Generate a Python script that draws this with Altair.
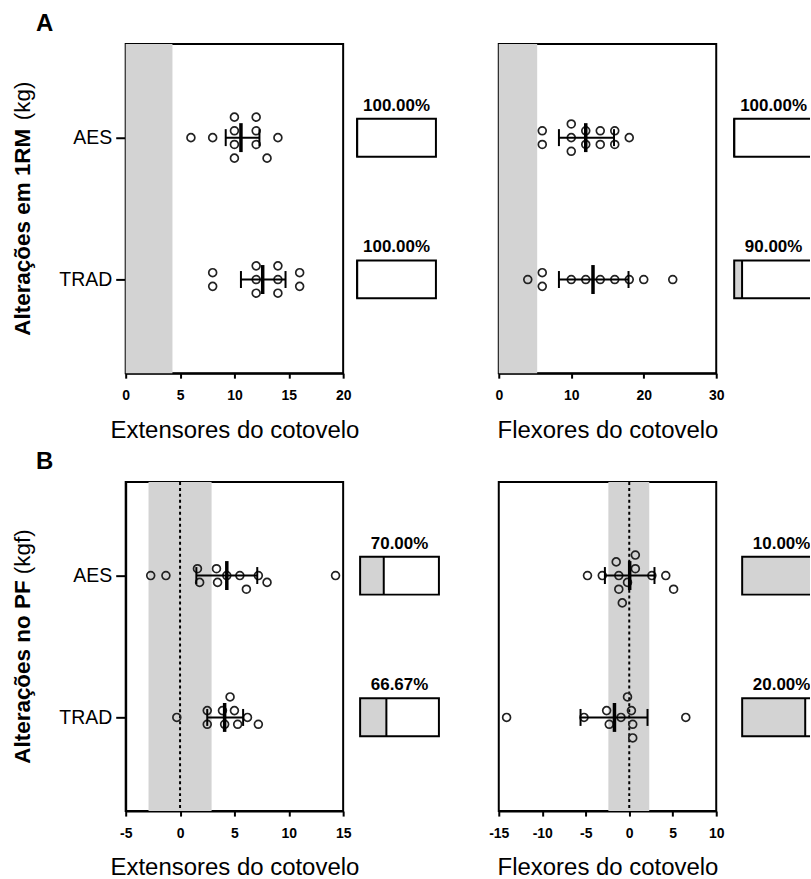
import altair as alt
import pandas as pd

FONT = "Liberation Sans"
GROUPS = ["AES", "TRAD"]

# ---------------- values ----------------
# A: Alterações em 1RM (kg)
ext_1rm_aes = [6, 8, 10, 10, 10, 10, 12, 12, 12, 13, 14]
ext_1rm_trad = [8, 8, 12, 12, 12, 14, 14, 14, 16, 16]
flex_1rm_aes = [6, 6, 10, 10, 10, 12, 12, 14, 14, 16, 16, 18]
flex_1rm_trad = [4, 6, 6, 10, 12, 14, 16, 18, 20, 24]
# B: Alterações no PF (kgf)
ext_pf_aes = [-2.7, -1.3, 1.6, 1.8, 3.35, 3.45, 4.3, 5.5, 6.1, 7.2, 8.0, 14.3]
ext_pf_trad = [-0.3, 2.5, 2.5, 3.9, 4.1, 4.6, 5.0, 5.3, 6.2, 7.2]
flex_pf_aes = [-4.8, -3.1, -1.5, -1.2, -1.2, -0.8, -0.2, 0.7, 0.7, 2.6, 4.2, 5.1]
flex_pf_trad = [-14.1, -5.2, -2.6, -2.3, -0.95, -0.2, 0.25, 0.4, 0.4, 6.5]

# mean and error-bar limits, order [AES, TRAD]
ext_1rm_mean, ext_1rm_lo, ext_1rm_hi = [10.6, 12.6], [9.2, 10.6], [12.3, 14.7]
flex_1rm_mean, flex_1rm_lo, flex_1rm_hi = [12.0, 13.0], [8.3, 8.3], [15.9, 17.9]
ext_pf_mean, ext_pf_lo, ext_pf_hi = [4.3, 4.1], [1.5, 2.5], [7.1, 5.8]
flex_pf_mean, flex_pf_lo, flex_pf_hi = [0.05, -1.7], [-2.8, -5.6], [2.9, 2.1]

# shaded zones
ext_1rm_zone = [0, 4.3]
flex_1rm_zone = [0, 5.3]
ext_pf_zone = [-2.9, 2.9]
flex_pf_zone = [-2.4, 2.3]

# percentages shown in the boxes, order [AES, TRAD]
ext_1rm_pct = [100.0, 100.0]
flex_1rm_pct = [100.0, 90.0]
ext_pf_pct = [70.0, 66.67]
flex_pf_pct = [10.0, 20.0]

# ---------------- layout ----------------
PW, PH = 218, 330
SLOT = 13.7
BOXW = 79


def swarm(values, ppu, bw, slot=SLOT, dmin=11.0):
    idx = sorted(range(len(values)), key=lambda i: values[i])
    cols = []
    for i in idx:
        if cols and values[i] - values[cols[-1][0]] < bw:
            cols[-1].append(i)
        else:
            cols.append([i])
    off = [0.0] * len(values)
    placed = []
    shifts = [0, 0.5, -0.5, 1, -1, 1.5, -1.5, 2, -2, 2.5, -2.5, 3, -3]
    for col in cols:
        n = len(col)
        base = [k - (n - 1) / 2 for k in range(n)]
        chosen = 0
        for s in shifts:
            ok = all(((values[i] - pv) * ppu) ** 2 + ((base[k] + s - po) * slot) ** 2 >= dmin ** 2
                     for k, i in enumerate(col) for pv, po in placed)
            if ok:
                chosen = s
                break
        for k, i in enumerate(col):
            off[i] = base[k] + chosen
            placed.append((values[i], off[i]))
    return off


def panel(aes, trad, mean, lo, hi, zone, xdom, xticks, xtitle, bw, zero_line,
          left=False, letter=None, ybold=None, yunit=None, bold_len=0, unit_len=0):
    ppu = PW / (xdom[1] - xdom[0])
    pts = pd.DataFrame({"group": ["AES"] * len(aes) + ["TRAD"] * len(trad),
                        "value": aes + trad})
    pts["off"] = swarm(aes, ppu, bw) + swarm(trad, ppu, bw)
    st = pd.DataFrame({"group": GROUPS, "mean": mean, "lo": lo, "hi": hi})
    zn = pd.DataFrame({"lo": [zone[0]], "hi": [zone[1]]})

    xs = alt.Scale(domain=xdom, nice=False, zero=False)
    xa = alt.Axis(values=xticks, title=xtitle, grid=False,
                  labelExpr="datum.value < 0 ? '-' + abs(datum.value) : '' + datum.value",
                  labelFont=FONT, labelFontSize=14, labelFontWeight="bold", labelColor="black",
                  labelPadding=10, labelOverlap=False, labelFlush=False,
                  tickSize=5, tickWidth=2, tickColor="black",
                  domainColor="black", domainWidth=2,
                  titleFont=FONT, titleFontSize=24, titleFontWeight="normal",
                  titleColor="black", titlePadding=16)
    ys = alt.Scale(type="point", domain=GROUPS, padding=0.66)
    if left:
        ya = alt.Axis(title=None, labelFont=FONT, labelFontSize=19.5, labelColor="black",
                      labelPadding=4, tickSize=10, tickWidth=2, tickColor="black",
                      domainColor="black", domainWidth=2)
    else:
        ya = None

    def X(f):
        return alt.X(f, type="quantitative", scale=xs, axis=xa)

    def Y():
        return alt.Y("group:N", scale=ys, axis=ya)

    layers = [
        alt.Chart(zn).mark_rect(color="#d3d3d3").encode(x=X("lo"), x2="hi:Q"),
    ]
    if zero_line:
        layers.append(
            alt.Chart(pd.DataFrame({"z": [0]})).mark_rule(
                color="black", strokeWidth=2, strokeDash=[3, 3]).encode(x=X("z")))
    layers += [
        alt.Chart(pts).mark_point(shape="circle", filled=False, size=62, strokeWidth=1.7,
                                  color="#222222", opacity=1).encode(
            x=X("value"), y=Y(),
            yOffset=alt.YOffset("off:Q", scale=alt.Scale(domain=[-3, 3], range=[-3 * SLOT, 3 * SLOT]))),
        alt.Chart(st).mark_rule(color="black", strokeWidth=2).encode(x=X("lo"), x2="hi:Q", y=Y()),
        alt.Chart(st).mark_tick(color="black", size=17, thickness=2, opacity=1).encode(x=X("lo"), y=Y()),
        alt.Chart(st).mark_tick(color="black", size=17, thickness=2, opacity=1).encode(x=X("hi"), y=Y()),
        alt.Chart(st).mark_tick(color="black", size=29, thickness=3.5, opacity=1).encode(x=X("mean"), y=Y()),
    ]
    if left:
        total = bold_len + 6 + unit_len
        y0 = PH / 2 + total / 2
        layers.append(alt.Chart(pd.DataFrame({"t": [ybold]})).mark_text(
            angle=270, align="left", baseline="alphabetic", font=FONT, fontSize=22.5,
            fontWeight="bold", color="black").encode(
            text="t:N", x=alt.value(-96), y=alt.value(y0)))
        layers.append(alt.Chart(pd.DataFrame({"t": [yunit]})).mark_text(
            angle=270, align="left", baseline="alphabetic", font=FONT, fontSize=22.5,
            fontWeight="normal", color="black").encode(
            text="t:N", x=alt.value(-96), y=alt.value(y0 - bold_len - 6)))
        layers.append(alt.Chart(pd.DataFrame({"t": [letter]})).mark_text(
            align="left", baseline="alphabetic", font=FONT, fontSize=24,
            fontWeight="bold", color="black").encode(
            text="t:N", x=alt.value(-90), y=alt.value(-13)))
    return alt.layer(*layers).properties(
        width=PW, height=PH, view=alt.ViewBackground(stroke="black", strokeWidth=2))


def boxes(pcts, W, start):
    k = 100.0 / BOXW
    dom = [-start * k, (W - start) * k]
    df = pd.DataFrame({"group": GROUPS, "pct": pcts})
    df["rest"] = 100 - df["pct"]
    df["start"] = 0.0
    df["end"] = 100.0
    df["mid"] = 50.0
    df["label"] = [f"{p:.2f}%" for p in pcts]
    xs = alt.Scale(domain=dom, nice=False, zero=False)
    ys = alt.Scale(type="band", domain=GROUPS, paddingInner=0.5, paddingOuter=0.412)

    def X(f):
        return alt.X(f, type="quantitative", scale=xs, axis=None)

    def Y():
        return alt.Y("group:N", scale=ys, axis=None)

    base = alt.Chart(df)
    return alt.layer(
        base.mark_bar(size=38, color="#d3d3d3", opacity=1, clip=True).encode(
            x=X("start"), x2="rest:Q", y=Y()),
        base.mark_bar(size=38, fillOpacity=0, stroke="black", strokeWidth=2, clip=True).encode(
            x=X("start"), x2="end:Q", y=Y()),
        base.mark_tick(size=38, thickness=2, color="black", opacity=1, clip=True).encode(
            x=X("rest"), y=Y()),
        base.mark_text(dy=-27, font=FONT, fontSize=17, fontWeight="bold", color="black",
                       baseline="alphabetic", clip=True).encode(x=X("mid"), y=Y(), text="label:N"),
    ).properties(width=W, height=PH)


pA1 = panel(ext_1rm_aes, ext_1rm_trad, ext_1rm_mean, ext_1rm_lo, ext_1rm_hi, ext_1rm_zone,
            [0, 20], [0, 5, 10, 15, 20], "Extensores do cotovelo", 1.5, False,
            left=True, letter="A", ybold="Alterações em 1RM", yunit="(kg)",
            bold_len=210, unit_len=39)
pA2 = panel(flex_1rm_aes, flex_1rm_trad, flex_1rm_mean, flex_1rm_lo, flex_1rm_hi, flex_1rm_zone,
            [0, 30], [0, 10, 20, 30], "Flexores do cotovelo", 1.5, False)
pB1 = panel(ext_pf_aes, ext_pf_trad, ext_pf_mean, ext_pf_lo, ext_pf_hi, ext_pf_zone,
            [-5, 15], [-5, 0, 5, 10, 15], "Extensores do cotovelo", 0.5, True,
            left=True, letter="B", ybold="Alterações no PF", yunit="(kgf)",
            bold_len=184, unit_len=45)
pB2 = panel(flex_pf_aes, flex_pf_trad, flex_pf_mean, flex_pf_lo, flex_pf_hi, flex_pf_zone,
            [-15, 10], [-15, -10, -5, 0, 5, 10], "Flexores do cotovelo", 0.5, True)

rowA = alt.hconcat(pA1, boxes(ext_1rm_pct, 156, 14), pA2, boxes(flex_1rm_pct, 94, 18),
                   spacing=0, bounds="flush")
rowB = alt.hconcat(pB1, boxes(ext_pf_pct, 156, 17), pB2, boxes(flex_pf_pct, 94, 26),
                   spacing=0, bounds="flush")

# rows are stacked with flush bounds: the spacing is the full step between row origins
chart = alt.vconcat(rowA, rowB, spacing=PH + 109, bounds="flush").properties(
    padding={"left": 11, "top": 10, "right": 0, "bottom": 0},
    background="white",
).configure_view(stroke="transparent")

chart.save("out.html", embed_options={"renderer": "svg", "actions": False})
